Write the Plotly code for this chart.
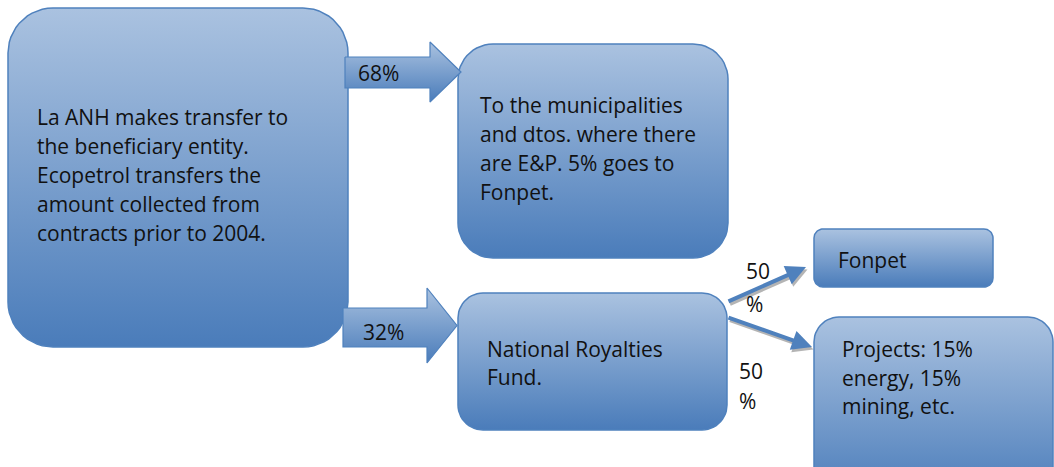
import plotly.graph_objects as go
import numpy as np

# ---- data (labels / values) ----
source_lines = ["La ANH makes transfer to", "the beneficiary entity.", "Ecopetrol transfers the",
                "amount collected from", "contracts prior to 2004."]
muni_lines = ["To the municipalities", "and dtos. where there", "are E&P. 5% goes to", "Fonpet."]
fund_lines = ["National Royalties", "Fund."]
fonpet_lines = ["Fonpet"]
project_lines = ["Projects: 15%", "energy, 15%", "mining, etc."]
split_main = [68, 32]          # % to municipalities, % to national fund
split_fund = [50, 50]          # % to Fonpet, % to projects

W, H = 1054, 467
TOP_C = "#aac2e0"
BOT_C = "#4a7cba"
EDGE = "#4f81bd"
FONT = "Open Sans"
FS = 21
TXT = "#111111"

fig = go.Figure()


def rrect(x0, y0, x1, y1, r, n=14):
    xs, ys = [], []
    corners = [(x1 - r, y0 + r, -90, 0), (x1 - r, y1 - r, 0, 90),
               (x0 + r, y1 - r, 90, 180), (x0 + r, y0 + r, 180, 270)]
    for cx, cy, a0, a1 in corners:
        for a in np.linspace(np.radians(a0), np.radians(a1), n):
            xs.append(cx + r * np.cos(a))
            ys.append(cy + r * np.sin(a))
    xs.append(xs[0]); ys.append(ys[0])
    return xs, ys


def add_shape(xs, ys, y0, y1, lw=1.5):
    fig.add_trace(go.Scatter(
        x=xs, y=ys, mode="lines", fill="toself",
        line=dict(color=EDGE, width=lw),
        fillgradient=dict(type="vertical", start=y0, stop=y1,
                          colorscale=[[0, TOP_C], [1, BOT_C]]),
        hoverinfo="skip", showlegend=False))


def add_box(x0, y0, x1, y1, r):
    xs, ys = rrect(x0, y0, x1, y1, r)
    add_shape(xs, ys, y0, y1)


def add_block_arrow(xs0, ys0, ys1, xh, yh0, yh1, xt):
    yc = (yh0 + yh1) / 2
    xs = [xs0, xh, xh, xt, xh, xh, xs0, xs0]
    ys = [ys0, ys0, yh0, yc, yh1, ys1, ys1, ys0]
    add_shape(xs, ys, yh0, yh1, lw=1.2)


def add_lines(lines, x, y0, dy, size=FS):
    for i, t in enumerate(lines):
        fig.add_annotation(x=x, y=y0 + i * dy, text=t, showarrow=False,
                           xanchor="left", yanchor="middle",
                           font=dict(family=FONT, size=size, color=TXT))


# boxes
add_box(8, 8, 348, 347, 45)
add_box(458, 44, 728, 258, 35)
add_box(458, 293, 727, 430, 25)
add_box(814, 229, 993, 287, 9)
add_box(814, 317, 1053, 500, 25)

# block arrows
add_block_arrow(345, 57, 88, 430, 42, 102, 461)
add_block_arrow(343, 308, 347, 427, 288, 363, 457)

# thin arrows (with shadow)
for (sx, sy, ex, ey) in [(727, 302, 806, 267), (727, 317, 812, 347)]:
    fig.add_annotation(x=ex + 1.5, y=ey + 2.5, ax=sx + 1.5, ay=sy + 2.5,
                       xref="x", yref="y", axref="x", ayref="y", text="",
                       showarrow=True, arrowhead=2, arrowsize=1.0, arrowwidth=4,
                       arrowcolor="rgba(120,120,120,0.55)")
    fig.add_annotation(x=ex, y=ey, ax=sx, ay=sy,
                       xref="x", yref="y", axref="x", ayref="y", text="",
                       showarrow=True, arrowhead=2, arrowsize=1.0, arrowwidth=4,
                       arrowcolor=EDGE)

# texts
add_lines(source_lines, 35, 117, 29)
add_lines(muni_lines, 478, 105, 29)
add_lines(fund_lines, 485, 349, 28)
add_lines(fonpet_lines, 836, 260, 28)
add_lines(project_lines, 840, 349, 28.5)

add_lines([f"{split_main[0]}%"], 356, 73, 0)
add_lines([f"{split_main[1]}%"], 361, 332, 0)
add_lines([f"{split_fund[0]}", "%"], 744, 271, 33)
add_lines([f"{split_fund[1]}", "%"], 737, 371, 30)

fig.update_layout(
    width=W, height=H, margin=dict(l=0, r=0, t=0, b=0),
    paper_bgcolor="white", plot_bgcolor="white",
    xaxis=dict(range=[0, W], visible=False, fixedrange=True),
    yaxis=dict(range=[H, 0], visible=False, fixedrange=True),
    showlegend=False,
)

fig.write_html(
    "out.html",
    config={"displayModeBar": False},
    post_script="document.body.style.margin='0px';"
                "document.documentElement.style.overflow='hidden';"
                "document.body.style.overflow='hidden';",
)
